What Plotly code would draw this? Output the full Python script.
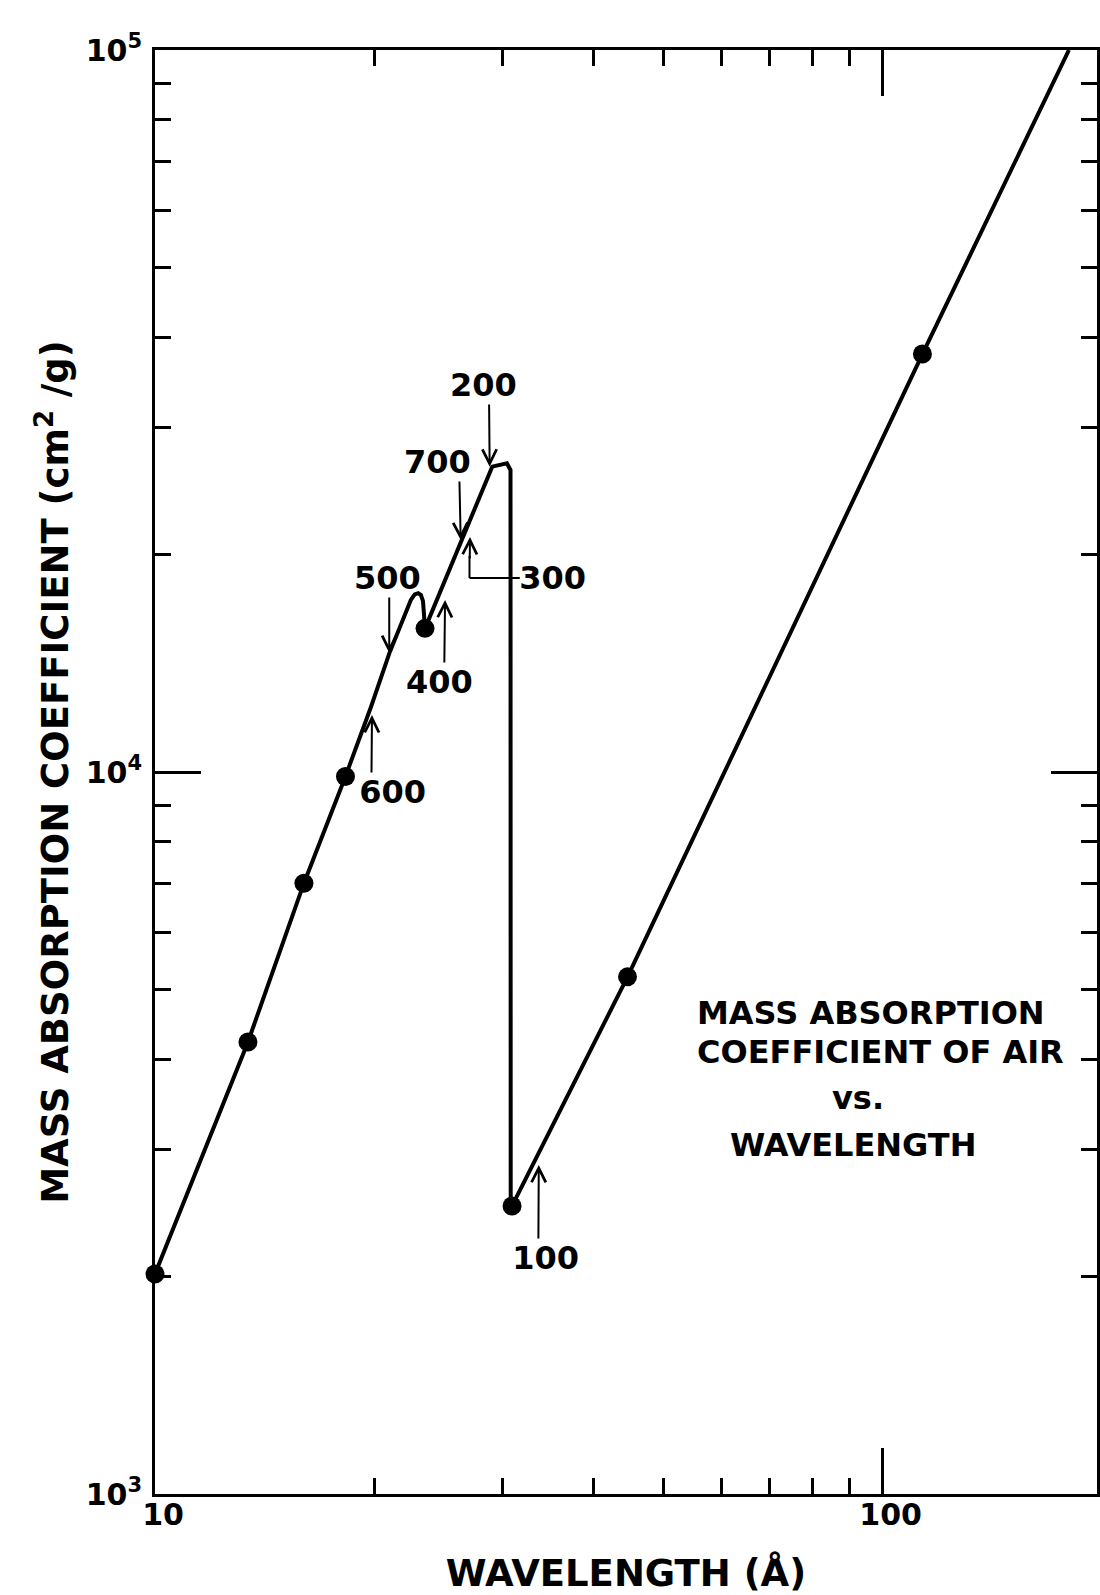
import plotly.graph_objects as go

# ---------------- data ----------------
# continuous absorption curve (wavelength in Angstrom, coefficient in cm^2/g)
curve_wavelength = [10.0, 13.42, 16.02, 18.27, 19.81, 20.99, 22.47, 22.75, 23.0, 23.2,
                    23.35, 23.44, 23.50, 29.07, 30.45, 30.80, 30.82, 30.95, 44.6, 113.4, 180.3]
curve_coefficient = [2017, 4227, 7015, 9860, 12315, 14600, 17310, 17620, 17690, 17580,
                     17250, 16590, 15810, 26480, 26770, 26200, 2540, 2506, 5203, 37920, 100000]

# plotted data points (filled circles)
point_wavelength = [10.0, 13.42, 16.02, 18.27, 23.50, 30.95, 44.6, 113.4]
point_coefficient = [2017, 4227, 7015, 9860, 15810, 2506, 5203, 37920]

# axis ticks
x_tick_values = [10, 100]
x_tick_text = ["10", "100"]
x_minor_values = [20, 30, 40, 50, 60, 70, 80, 90]
y_tick_values = [1e3, 1e4, 1e5]
y_tick_text = ["10<sup>3</sup>", "10<sup>4</sup>", "10<sup>5</sup>"]
y_minor_values = [2000, 3000, 4000, 5000, 6000, 7000, 8000, 9000,
                  20000, 30000, 40000, 50000, 60000, 70000, 80000, 90000]

# altitude labels attached to the curve
altitude_labels = ["100", "200", "300", "400", "500", "600", "700"]

# ---------------- layout helpers ----------------
FONT = "DejaVu Sans"
BLACK = "black"

# label placement in log10 axis units: box = text box centre (arrow column),
# tip = arrow tip on the curve; width/align keep the arrow column off-centre
label_layout = {
    "100": dict(box=(1.5267, 3.3269), tip=(1.5274, 3.4557), width=82, align="right"),
    "200": dict(box=(1.4589, 4.5360), tip=(1.4599, 4.4229), width=77, align="left"),
    "300": dict(box=(1.4322, 4.2687), tip=(1.4329, 4.3255), width=232, align="right"),
    "400": dict(box=(1.3973, 4.1247), tip=(1.3986, 4.2382), width=77, align="left"),
    "500": dict(box=(1.3219, 4.2687), tip=(1.3219, 4.1648), width=71, align="left"),
    "600": dict(box=(1.2973, 3.9723), tip=(1.2982, 4.0789), width=109, align="right"),
    "700": dict(box=(1.4178, 4.4294), tip=(1.4201, 4.3213), width=111, align="left"),
}

fig = go.Figure()

fig.add_trace(go.Scatter(
    x=curve_wavelength, y=curve_coefficient, mode="lines",
    line=dict(color=BLACK, width=4), cliponaxis=False, hoverinfo="skip",
))
fig.add_trace(go.Scatter(
    x=point_wavelength, y=point_coefficient, mode="markers",
    marker=dict(color=BLACK, size=19, line=dict(width=0)), cliponaxis=False,
))

label_font = dict(family=FONT, size=32, color=BLACK, weight="bold")
annotations = []
for name in altitude_labels:
    spec = label_layout[name]
    bx, by = spec["box"]
    tx, ty = spec["tip"]
    annotations.append(dict(
        x=tx, y=ty, ax=bx, ay=by, xref="x", yref="y", axref="x", ayref="y",
        text=name, font=label_font, width=spec["width"], align=spec["align"],
        showarrow=True, arrowhead=5, arrowsize=1.4, arrowwidth=2,
        arrowcolor=BLACK, standoff=0, startstandoff=0, borderpad=0,
    ))

# geometry of the plotting area in page pixels
plot_w, plot_h, left, bottom = 945.0, 1444.0, 155.0, 1494.0
def px_to_paper(xp, yp):
    return (xp - left) / plot_w, (bottom - yp) / plot_h

# elbow leader line of the "300" label
corner = px_to_paper(470.5, 578)
label_end = px_to_paper(521, 578)
riser_top = px_to_paper(470.5, 556)
shapes = [
    dict(type="line", xref="paper", yref="paper", x0=corner[0], y0=corner[1],
         x1=label_end[0], y1=label_end[1], line=dict(color=BLACK, width=2)),
    dict(type="line", xref="paper", yref="paper", x0=corner[0], y0=corner[1],
         x1=riser_top[0], y1=riser_top[1], line=dict(color=BLACK, width=2)),
]

# caption block inside the plot
caption_font = dict(family=FONT, size=32, color=BLACK, weight="bold")
for text, (xp, yp), anchor in [
    ("MASS ABSORPTION", (697, 1013), "left"),
    ("COEFFICIENT OF AIR", (697, 1052), "left"),
    ("vs.", (860, 1098), "center"),
    ("WAVELENGTH", (855, 1145), "center"),
]:
    xx, yy = px_to_paper(xp, yp)
    annotations.append(dict(
        x=xx, y=yy, xref="paper", yref="paper", text=text, showarrow=False,
        font=caption_font, xanchor=anchor, yanchor="middle",
    ))

axis_common = dict(
    type="log", showgrid=False, zeroline=False,
    showline=True, linecolor=BLACK, linewidth=3, mirror="ticks",
    ticks="inside", ticklen=46, tickwidth=2.5, tickcolor=BLACK,
    tickmode="array",
)

fig.update_layout(
    width=1100, height=1595,
    margin=dict(l=155, r=0, t=50, b=101),
    paper_bgcolor="white", plot_bgcolor="white",
    showlegend=False,
    annotations=annotations,
    shapes=shapes,
    xaxis=dict(
        **axis_common,
        range=[1, 1 + 945 / 730],
        tickvals=x_tick_values, ticktext=x_tick_text,
        tickfont=dict(family=FONT, size=30, color=BLACK, weight="bold"),
        ticklabelstandoff=-8, ticklabelshift=8,
        minor=dict(tickmode="array", tickvals=x_minor_values, ticks="inside",
                   ticklen=16, tickwidth=2.5, tickcolor=BLACK, showgrid=False),
        title=dict(text="WAVELENGTH (Å)", standoff=34,
                   font=dict(family=FONT, size=37, color=BLACK, weight="bold")),
    ),
    yaxis=dict(
        **axis_common,
        range=[3, 5],
        tickvals=y_tick_values, ticktext=y_tick_text,
        tickfont=dict(family=FONT, size=30, color=BLACK, weight="bold"),
        ticklabelstandoff=4,
        minor=dict(tickmode="array", tickvals=y_minor_values, ticks="inside",
                   ticklen=16, tickwidth=2.5, tickcolor=BLACK, showgrid=False),
        title=dict(text="MASS ABSORPTION COEFFICIENT (cm<sup>2</sup> /g)", standoff=6,
                   font=dict(family=FONT, size=37, color=BLACK, weight="bold")),
    ),
)

fig.write_html("out.html")
